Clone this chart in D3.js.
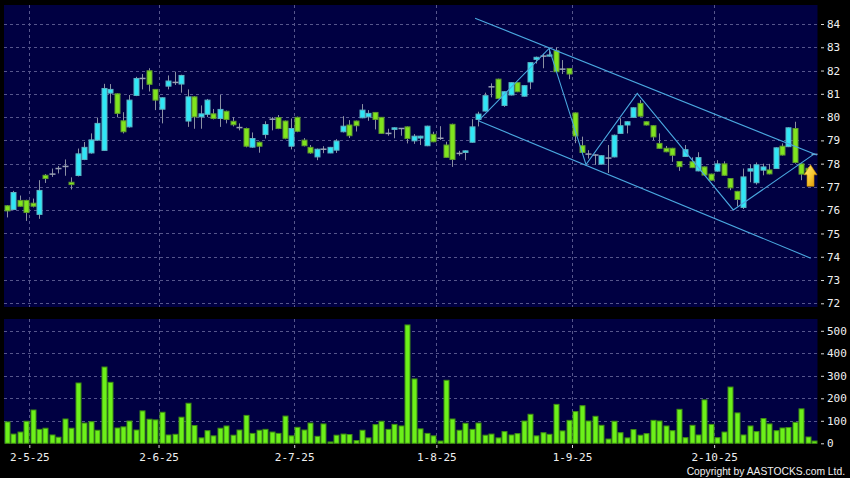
<!DOCTYPE html>
<html>
<head>
<meta charset="utf-8">
<script src="https://cdn.jsdelivr.net/npm/d3@7"></script>
<style>
  html, body { margin: 0; padding: 0; background: #000; }
  svg { display: block; }
</style>
</head>
<body>
<div id="chart"></div>
<script>
// daily candles, oldest first
var opens = [
  76.19, 76.03, 76.42, 76.42, 76.30, 75.82, 77.50, 77.55, 77.79, 77.88,
  77.20, 77.49, 78.18, 78.46, 79.01, 78.57, 81.03, 81.00, 79.84, 79.58,
  80.93, 81.66, 81.99, 81.19, 80.34, 81.33, 81.49, 81.42, 79.83, 80.87,
  80.01, 80.12, 80.14, 79.94, 80.25, 79.82, 79.55, 79.51, 78.71, 78.92,
  79.25, 79.91, 79.98, 79.83, 78.75, 79.99, 79.01, 78.70, 78.29, 78.62,
  78.46, 78.58, 79.37, 79.66, 79.83, 79.97, 80.01, 80.20, 79.99, 79.30,
  79.47, 79.51, 79.58, 78.98, 79.10, 78.77, 79.26, 79.09, 78.80, 79.69,
  78.44, 78.48, 78.92, 79.90, 80.26, 81.30, 81.63, 80.50, 80.95, 81.48,
  80.90, 81.51, 82.48, 82.62, 82.62, 82.85, 82.06, 82.09, 80.18, 78.77,
  78.41, 78.37, 77.98, 78.24, 78.29, 79.30, 79.66, 79.99, 80.59, 79.80,
  79.63, 78.87, 78.66, 78.66, 78.09, 78.31, 78.08, 77.69, 77.86, 77.55,
  77.68, 77.99, 77.36, 76.81, 76.12, 77.68, 77.18, 77.72, 77.73, 77.79,
  78.75, 78.73, 79.51, 77.99, 77.80, 78.40
];
var highs = [
  76.22, 76.83, 76.63, 76.45, 76.50, 77.29, 77.55, 77.79, 77.90, 78.18,
  77.41, 78.65, 78.93, 79.30, 79.98, 81.43, 81.42, 81.02, 80.21, 80.95,
  81.73, 81.85, 82.10, 81.20, 80.85, 81.79, 81.95, 81.82, 81.19, 80.90,
  80.50, 80.78, 80.35, 80.95, 80.28, 80.00, 79.73, 79.55, 79.34, 78.95,
  79.82, 80.00, 80.09, 79.85, 79.94, 80.02, 79.10, 78.80, 78.65, 78.75,
  78.72, 79.05, 80.04, 79.87, 79.85, 80.56, 80.30, 80.22, 80.00, 79.50,
  79.56, 79.53, 79.60, 79.27, 79.20, 79.63, 79.37, 79.61, 78.94, 79.72,
  78.55, 78.57, 79.91, 80.23, 81.05, 81.45, 81.65, 81.11, 81.50, 81.50,
  81.37, 82.36, 82.60, 82.72, 82.96, 83.00, 82.45, 82.11, 80.20, 79.16,
  78.58, 78.40, 78.36, 78.80, 79.25, 79.95, 79.82, 80.42, 80.73, 79.82,
  79.65, 79.30, 78.76, 78.68, 78.11, 78.80, 78.27, 78.49, 77.88, 77.57,
  78.15, 78.10, 77.38, 76.83, 77.79, 77.97, 78.05, 78.00, 77.99, 78.70,
  78.87, 79.56, 79.80, 78.01, 77.85, 78.42
];
var lows = [
  75.69, 76.00, 76.15, 75.54, 76.12, 75.63, 77.17, 77.43, 77.58, 77.48,
  76.89, 77.45, 78.15, 78.43, 78.98, 78.55, 80.59, 79.99, 79.30, 79.55,
  80.90, 81.19, 81.10, 80.30, 79.73, 81.19, 81.38, 81.05, 79.58, 79.50,
  79.50, 80.00, 79.90, 79.58, 79.73, 79.60, 79.43, 78.70, 78.68, 78.47,
  79.08, 79.43, 79.48, 79.05, 78.61, 79.35, 78.74, 78.42, 78.15, 78.45,
  78.45, 78.46, 79.34, 79.10, 79.38, 79.95, 79.84, 79.47, 79.28, 79.20,
  79.09, 79.20, 78.87, 78.85, 78.80, 78.75, 78.92, 79.02, 78.25, 77.86,
  78.34, 78.15, 78.90, 79.60, 80.24, 80.85, 80.78, 80.44, 80.93, 81.07,
  80.88, 81.20, 82.30, 82.10, 82.60, 81.93, 81.85, 81.63, 78.88, 78.45,
  78.22, 77.95, 77.96, 77.60, 78.27, 79.28, 79.30, 79.97, 80.02, 79.64,
  79.01, 78.64, 78.49, 78.08, 77.69, 78.29, 77.81, 77.67, 77.49, 77.27,
  77.66, 77.48, 76.86, 76.17, 76.05, 77.20, 77.10, 77.50, 77.54, 77.77,
  78.35, 78.71, 78.00, 77.29, 77.60, 78.38
];
var closes = [
  75.97, 76.76, 76.17, 75.90, 76.17, 76.85, 77.36, 77.55, 77.79, 77.88,
  77.10, 78.42, 78.70, 79.02, 79.73, 81.23, 81.19, 80.16, 79.37, 80.73,
  81.66, 81.66, 81.41, 80.73, 80.83, 81.55, 81.49, 81.79, 80.87, 80.01,
  80.14, 80.73, 79.94, 80.33, 79.90, 79.67, 79.55, 78.75, 79.08, 78.75,
  79.68, 79.91, 79.51, 79.09, 79.51, 79.39, 78.77, 78.46, 78.62, 78.62,
  78.70, 78.97, 79.61, 79.20, 79.63, 80.30, 80.16, 79.90, 79.30, 79.30,
  79.54, 79.51, 79.08, 79.18, 79.18, 79.61, 78.94, 79.09, 78.27, 78.18,
  78.44, 78.55, 79.58, 80.13, 80.92, 81.30, 80.80, 81.09, 81.48, 81.09,
  81.35, 82.34, 82.57, 82.62, 82.67, 81.95, 82.06, 81.85, 79.19, 78.48,
  78.41, 78.37, 78.34, 78.24, 79.22, 79.63, 79.80, 80.40, 80.04, 79.66,
  79.15, 78.66, 78.51, 78.36, 77.87, 78.60, 77.83, 78.26, 77.51, 77.29,
  77.99, 77.50, 76.96, 76.46, 77.43, 77.78, 77.95, 77.86, 77.56, 78.68,
  78.37, 79.54, 78.05, 77.55, 77.70, 78.40
];
var volumes = [
  95, 41, 50, 98, 148, 62, 67, 37, 27, 108,
  67, 268, 90, 96, 58, 339, 271, 68, 73, 99,
  59, 144, 107, 104, 138, 37, 40, 116, 178, 79,
  24, 56, 33, 67, 77, 36, 59, 124, 44, 58,
  62, 50, 44, 121, 33, 71, 59, 90, 31, 86,
  6, 36, 41, 39, 12, 58, 24, 83, 98, 62,
  84, 77, 526, 286, 64, 44, 33, 10, 280, 108,
  58, 89, 62, 90, 36, 41, 24, 52, 37, 43,
  99, 129, 33, 47, 40, 173, 55, 102, 141, 167,
  99, 120, 80, 19, 98, 47, 24, 61, 36, 43,
  102, 99, 77, 56, 151, 25, 80, 37, 193, 84,
  25, 50, 250, 135, 37, 77, 52, 110, 86, 56,
  68, 70, 93, 153, 28, 10
];

// first candle of each month and its label
var monthStarts = [4, 24, 45, 67, 88, 110];
var monthLabels = ['2-5-25', '2-6-25', '2-7-25', '1-8-25', '1-9-25', '2-10-25'];
var priceTicks  = [72, 73, 74, 75, 76, 77, 78, 79, 80, 81, 82, 83, 84];
var volumeTicks = [0, 100, 200, 300, 400, 500];

// drawn lines as [candle index, price]
var channelUpper = [[72.5, 84.25], [125.4, 78.37]];
var channelLower = [[73.0, 79.84], [124.45, 73.94]];
var zigzag = [[73.0, 79.84], [83.95, 82.95], [89.67, 77.96], [97.6, 81.02], [112.47, 76.01], [124.96, 78.41]];
var arrowAt = [124.42, 77.95];

(function(){
    var WIDTH        = 850,
        HEIGHT       = 478,
        PLOT_LEFT    = 4,
        PLOT_RIGHT   = 817.5,
        MAIN_TOP     = 5,
        MAIN_BOTTOM  = 307,
        VOL_TOP      = 319,
        VOL_BOTTOM   = 443.3,
        BODY_W       = 5,
        BAR_W        = 5;

    var PANEL  = '#000042',
        GRID   = '#56568c',
        CYAN   = '#2fe6f6',
        CYAN_E = '#5cb4c4',
        GREEN  = '#80e41e',
        GREEN_E= '#5f9c2c',
        WICK   = '#8a90a2',
        VOLC   = '#6cf01a',
        VOL_E  = '#3f8f12',
        TREND  = '#4aa8e0',
        TEXT   = '#f0f0f0',
        FONT   = '"DejaVu Sans Mono", monospace';

    var n = opens.length;

    var svg = d3.select('#chart').append('svg')
        .attr('width', WIDTH)
        .attr('height', HEIGHT);

    var defs = svg.append('defs');
    var grad = defs.append('linearGradient').attr('id', 'arrowGrad')
        .attr('x1', 0).attr('y1', 0).attr('x2', 1).attr('y2', 1);
    grad.append('stop').attr('offset', '0%').attr('stop-color', '#fff27a');
    grad.append('stop').attr('offset', '55%').attr('stop-color', '#f7c531');
    grad.append('stop').attr('offset', '100%').attr('stop-color', '#d98f00');

    svg.append('rect').attr('width', WIDTH).attr('height', HEIGHT).attr('fill', '#000');

    var x = d3.scaleLinear().domain([-0.42, n - 0.5]).range([PLOT_LEFT, PLOT_RIGHT]);
    var y = d3.scaleLinear().domain([72, 84]).range([303.3, 24]);
    var yv = d3.scaleLinear().domain([0, 500]).range([VOL_BOTTOM, 330.8]);

    // panels
    svg.append('rect')
        .attr('x', PLOT_LEFT).attr('y', MAIN_TOP)
        .attr('width', PLOT_RIGHT - PLOT_LEFT).attr('height', MAIN_BOTTOM - MAIN_TOP)
        .attr('fill', PANEL);
    svg.append('rect')
        .attr('x', PLOT_LEFT).attr('y', VOL_TOP)
        .attr('width', PLOT_RIGHT - PLOT_LEFT).attr('height', VOL_BOTTOM - VOL_TOP)
        .attr('fill', PANEL);

    // grid lines
    var grid = svg.append('g')
        .attr('stroke', GRID)
        .attr('stroke-width', 1)
        .attr('stroke-dasharray', '3,3');

    grid.selectAll('line.hp')
        .data(priceTicks)
        .enter().append('line')
        .attr('class', 'hp')
        .attr('x1', PLOT_LEFT).attr('x2', PLOT_RIGHT)
        .attr('y1', function(d){ return Math.round(y(d)) + 0.5; })
        .attr('y2', function(d){ return Math.round(y(d)) + 0.5; });

    grid.selectAll('line.hv')
        .data(volumeTicks.filter(function(d){ return d > 0; }))
        .enter().append('line')
        .attr('class', 'hv')
        .attr('x1', PLOT_LEFT).attr('x2', PLOT_RIGHT)
        .attr('y1', function(d){ return Math.round(yv(d)) + 0.5; })
        .attr('y2', function(d){ return Math.round(yv(d)) + 0.5; });

    monthStarts.forEach(function(m){
        var gx = Math.round(x(m - 0.5)) + 0.5;
        grid.append('line')
            .attr('x1', gx).attr('x2', gx)
            .attr('y1', MAIN_TOP).attr('y2', MAIN_BOTTOM);
        grid.append('line')
            .attr('x1', gx).attr('x2', gx)
            .attr('y1', VOL_TOP).attr('y2', VOL_BOTTOM);
    });

    // candles
    var candles = d3.range(n).map(function(i){
        return { i: i, o: opens[i], h: highs[i], l: lows[i], c: closes[i], v: volumes[i] };
    });

    var cg = svg.append('g');

    cg.selectAll('line.wick')
        .data(candles)
        .enter().append('line')
        .attr('class', 'wick')
        .attr('x1', function(d){ return Math.round(x(d.i)) + 0.5; })
        .attr('x2', function(d){ return Math.round(x(d.i)) + 0.5; })
        .attr('y1', function(d){ return y(d.h); })
        .attr('y2', function(d){ return y(d.l); })
        .attr('stroke', WICK)
        .attr('stroke-width', 1);

    var bodies = candles.filter(function(d){ return Math.abs(d.o - d.c) >= 0.04; });
    var dojis  = candles.filter(function(d){ return Math.abs(d.o - d.c) < 0.04; });

    cg.selectAll('rect.body')
        .data(bodies)
        .enter().append('rect')
        .attr('class', 'body')
        .attr('x', function(d){ return Math.round(x(d.i)) + 0.5 - BODY_W / 2; })
        .attr('y', function(d){ return y(Math.max(d.o, d.c)); })
        .attr('width', BODY_W)
        .attr('height', function(d){ return Math.max(1, y(Math.min(d.o, d.c)) - y(Math.max(d.o, d.c))); })
        .attr('fill', function(d){ return d.c > d.o ? CYAN : GREEN; })
        .attr('stroke', function(d){ return d.c > d.o ? CYAN_E : GREEN_E; })
        .attr('stroke-width', 1);

    cg.selectAll('line.doji')
        .data(dojis)
        .enter().append('line')
        .attr('class', 'doji')
        .attr('x1', function(d){ return Math.round(x(d.i)) + 0.5 - 3; })
        .attr('x2', function(d){ return Math.round(x(d.i)) + 0.5 + 3; })
        .attr('y1', function(d){ return y(d.c); })
        .attr('y2', function(d){ return y(d.c); })
        .attr('stroke', '#9aa2b4')
        .attr('stroke-width', 1.5);

    // volume bars
    svg.append('g').selectAll('rect')
        .data(candles)
        .enter().append('rect')
        .attr('x', function(d){ return Math.round(x(d.i)) + 0.5 - BAR_W / 2; })
        .attr('y', function(d){ return yv(d.v); })
        .attr('width', BAR_W)
        .attr('height', function(d){ return Math.max(0.5, yv(0) - yv(d.v)); })
        .attr('fill', VOLC)
        .attr('stroke', VOL_E)
        .attr('stroke-width', 1);

    // trend lines
    var line = d3.line()
        .x(function(d){ return x(d[0]); })
        .y(function(d){ return y(d[1]); });

    var tg = svg.append('g')
        .attr('fill', 'none')
        .attr('stroke', TREND)
        .attr('stroke-width', 1.1);
    tg.append('path').attr('d', line(channelUpper));
    tg.append('path').attr('d', line(channelLower));
    tg.append('path').attr('d', line(zigzag));

    // yellow arrow
    svg.append('path')
        .attr('transform', 'translate(' + x(arrowAt[0]) + ',' + y(arrowAt[1]) + ')')
        .attr('d', 'M0,0 L6.5,10 L3.5,10 L3.5,21.5 L-3.5,21.5 L-3.5,10 L-6.5,10 Z')
        .attr('fill', 'url(#arrowGrad)')
        .attr('stroke', '#c98a00')
        .attr('stroke-width', 0.6);

    // axes
    function styleAxis(g){
        g.select('.domain').remove();
        g.selectAll('.tick line').attr('stroke', '#d8d8d8');
        g.selectAll('.tick text')
            .attr('fill', TEXT)
            .style('font-family', FONT)
            .style('font-size', '11px');
    }

    svg.append('g')
        .attr('transform', 'translate(821,0)')
        .call(d3.axisRight(y).tickValues(priceTicks).tickSize(3).tickPadding(3))
        .call(styleAxis);

    svg.append('g')
        .attr('transform', 'translate(821,0)')
        .call(d3.axisRight(yv).tickValues(volumeTicks).tickSize(3).tickPadding(3))
        .call(styleAxis);

    svg.append('g')
        .attr('transform', 'translate(0,445)')
        .call(d3.axisBottom(x)
            .tickValues(monthStarts.map(function(m){ return m - 0.5; }))
            .tickFormat(function(d, i){ return monthLabels[i]; })
            .tickSize(3).tickPadding(5))
        .call(styleAxis);

    svg.append('text')
        .attr('x', 845).attr('y', 474.5)
        .attr('text-anchor', 'end')
        .attr('fill', TEXT)
        .style('font-family', '"Liberation Sans", Arial, sans-serif')
        .style('font-size', '10.3px')
        .text('Copyright by AASTOCKS.com Ltd.');
})();
</script>
</body>
</html>
